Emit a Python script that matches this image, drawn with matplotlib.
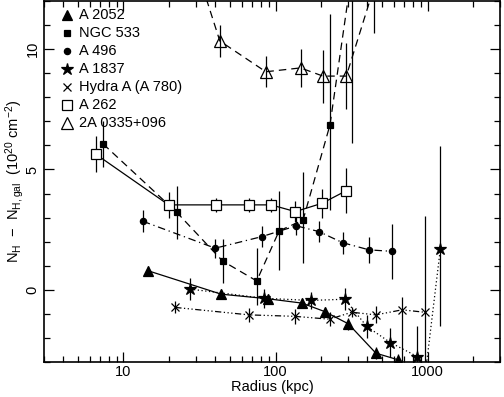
import numpy as np
import matplotlib
matplotlib.use("Agg")
import matplotlib.pyplot as plt
from matplotlib.ticker import MultipleLocator, FixedLocator, NullFormatter

plt.rcParams['font.family'] = ['Liberation Sans', 'DejaVu Sans']
plt.rcParams['mathtext.default'] = 'regular'

# radius (kpc), N_H - N_H,gal (1e20 cm^-2), errors (lower, upper)
r_a2052 = [14.4, 43.9, 89, 149, 210, 301, 457, 635]
nh_a2052 = [0.80, -0.18, -0.37, -0.55, -0.9, -1.41, -2.63, -2.9]
lo_a2052 = [0.18, 0.2, 0.2, 0.2, 0.2, 0.25, 0.25, 0.25]
hi_a2052 = [0.18, 0.2, 0.2, 0.2, 0.2, 0.25, 0.25, 0.25]

r_ngc533 = [7.35, 22.4, 44.8, 75.2, 105.6, 151.7, 228, 318]
nh_ngc533 = [6.06, 3.22, 1.2, 0.37, 2.45, 2.9, 6.85, 13.2]
lo_ngc533 = [0.95, 1.1, 0.9, 1.0, 1.64, 1.8, 3.55, 7.1]
hi_ngc533 = [0.95, 1.1, 0.9, 1.36, 1.64, 2.0, 4.6, 2.0]

r_a496 = [13.4, 40.1, 81.1, 137, 193, 276, 413, 583]
nh_a496 = [2.85, 1.73, 2.21, 2.66, 2.42, 1.96, 1.66, 1.6]
lo_a496 = [0.45, 0.4, 0.45, 0.4, 0.45, 0.45, 0.55, 1.15]
hi_a496 = [0.45, 0.4, 0.45, 0.4, 0.45, 0.45, 0.55, 1.15]

r_a1837 = [27.5, 84, 170, 286, 398, 569, 855, 970, 1213]
nh_a1837 = [0.03, -0.35, -0.44, -0.39, -1.52, -2.19, -2.77, -3.4, 1.7]
lo_a1837 = [0.46, 0.4, 0.35, 0.46, 0.48, 0.62, 1.25, 0.5, 3.22]
hi_a1837 = [0.46, 0.4, 0.35, 0.46, 0.48, 0.62, 1.25, 0.5, 4.28]

r_hydra = [21.9, 67, 133.7, 227, 317, 457, 680, 956]
nh_hydra = [-0.73, -1.04, -1.1, -1.22, -0.93, -1.04, -0.83, -0.93]
lo_hydra = [0.25, 0.3, 0.3, 0.3, 0.2, 0.35, 2.15, 2.5]
hi_hydra = [0.25, 0.3, 0.3, 0.3, 0.2, 0.35, 0.55, 4.0]

r_a262 = [6.56, 19.8, 40.3, 67.3, 93.5, 135, 203, 292]
nh_a262 = [5.64, 3.53, 3.53, 3.53, 3.53, 3.25, 3.6, 4.12]
lo_a262 = [0.74, 0.55, 0.3, 0.3, 0.3, 0.45, 0.6, 0.93]
hi_a262 = [0.74, 0.55, 0.3, 0.3, 0.3, 0.45, 0.6, 0.93]

r_2a0335 = [30.8, 43, 86.3, 146, 205, 292, 441]
nh_2a0335 = [13.2, 10.34, 9.06, 9.22, 8.88, 8.88, 12.5]
lo_2a0335 = [0.8, 0.65, 0.65, 0.8, 1.1, 1.37, 1.85]
hi_2a0335 = [0.8, 0.65, 0.65, 0.8, 1.1, 1.37, 1.85]

labels = ['A 2052', 'NGC 533', 'A 496', 'A 1837', 'Hydra A (A 780)', 'A 262', '2A 0335+096']

series = [
    (r_a2052, nh_a2052, lo_a2052, hi_a2052, dict(marker='^', ms=7, mfc='k', ls='-')),
    (r_ngc533, nh_ngc533, lo_ngc533, hi_ngc533, dict(marker='s', ms=4, mfc='k', ls=(0, (6, 4)))),
    (r_a496, nh_a496, lo_a496, hi_a496, dict(marker='o', ms=4.5, mfc='k', ls=(0, (6, 3, 1, 3)))),
    (r_a1837, nh_a1837, lo_a1837, hi_a1837, dict(marker='*', ms=9, mfc='k', ls=(0, (1, 2)))),
    (r_hydra, nh_hydra, lo_hydra, hi_hydra, dict(marker='x', ms=6, mfc='k', ls=(0, (5, 2, 1, 2, 1, 2, 1, 2)))),
    (r_a262, nh_a262, lo_a262, hi_a262, dict(marker='s', ms=6.5, mfc='white', ls='-')),
    (r_2a0335, nh_2a0335, lo_2a0335, hi_2a0335, dict(marker='^', ms=8, mfc='none', ls=(0, (6, 4)))),
]

fig = plt.figure(figsize=(5.04, 3.97), dpi=100)
ax = fig.add_axes([0.0873, 0.088, 0.905, 0.9095])

for (r, nh, lo, hi, st), lab in zip(series, labels):
    ax.errorbar(r, nh, yerr=[lo, hi], color='k', ecolor='k', elinewidth=0.9,
                capsize=0, lw=0.9, mec='k', mew=0.9, **st)

# legend drawn by hand: symbol then name, one row per cluster
for i, ((r, nh, lo, hi, st), lab) in enumerate(zip(series, labels)):
    yy = 0.962 - i * 0.05
    ax.plot([0.05], [yy], transform=ax.transAxes, ls='none', marker=st['marker'],
            ms=st['ms'], mfc=st['mfc'], mec='k', mew=0.9, clip_on=False)
    ax.text(0.076, yy, lab, transform=ax.transAxes, fontsize=10.5, va='center', ha='left')

ax.set_xscale('log')
ax.set_xlim(3, 3000)
ax.set_ylim(-3, 12)
ax.xaxis.set_major_locator(FixedLocator([10, 100, 1000]))
ax.xaxis.set_minor_locator(FixedLocator([m * 10.0 ** e for e in range(0, 4) for m in range(2, 10)]))
ax.xaxis.set_minor_formatter(NullFormatter())
ax.set_xticklabels(['10', '100', '1000'])
ax.yaxis.set_major_locator(MultipleLocator(5))
ax.yaxis.set_minor_locator(MultipleLocator(1))
ax.tick_params(which='both', direction='in', top=True, right=True, labelsize=10.5, width=0.9)
ax.tick_params(which='major', length=7)
ax.tick_params(which='minor', length=4)
ax.tick_params(axis='x', pad=2)
ax.tick_params(axis='y', pad=3)
for lbl in ax.get_yticklabels():
    lbl.set_rotation(90)
    lbl.set_va('center')
for sp in ax.spines.values():
    sp.set_linewidth(1.2)

ax.set_xlabel('Radius (kpc)', fontsize=10.5, labelpad=1)
ax.set_ylabel('N$_{H}$  $-$  N$_{H,gal}$  (10$^{20}$ cm$^{-2}$)', fontsize=10.5, labelpad=0)

fig.savefig('out.png', dpi=100)
